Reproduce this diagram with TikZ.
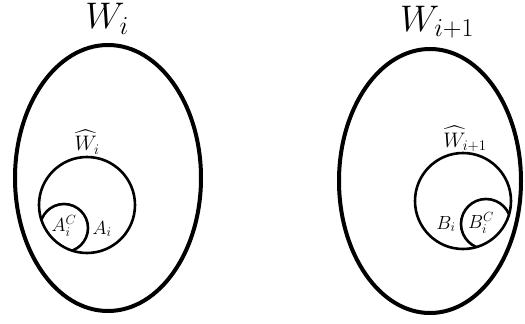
\RequirePackage{fix-cm}
\documentclass[tikz,border=0pt]{standalone}
\usepackage{amsmath}
\begin{document}
\begin{tikzpicture}[x=1pt,y=-1pt,
  outer/.style={line width=4pt},
  inner/.style={line width=2.6pt},
  big/.style={font=\fontsize{37}{44}\selectfont, inner sep=0pt},
  mid/.style={font=\fontsize{21}{25}\selectfont, inner sep=0pt},
  small/.style={font=\fontsize{19}{23}\selectfont, inner sep=0pt}]
\useasboundingbox (0,0) rectangle (525,324);
% left
\draw[outer] (108,178) ellipse [x radius=93, y radius=133];
\begin{scope}
  \clip (87,205) circle [radius=48];
  \draw[inner] (64,228) circle [radius=24];
\end{scope}
\draw[inner] (87,205) circle [radius=48];
\node[big] (wi) at (107,19) {$W_i$};
\node[mid] (hwi) at (87,142) {$\widehat{W}_i$};
\node[small] (aic) at (64,226) {$A_i^C$};
\node[small] (ai) at (102,229) {$A_i$};
% right
\draw[outer] (430,181) ellipse [x radius=91, y radius=132];
\begin{scope}
  \clip (463,201) circle [radius=48];
  \draw[inner] (486,224) circle [radius=25];
\end{scope}
\draw[inner] (463,201) circle [radius=48];
\node[big] (wi1) at (437,22) {$W_{i+1}$};
\node[mid] (hwi1) at (465,139) {$\widehat{W}_{i+1}$};
\node[small] (bi) at (446,224) {$B_i$};
\node[small] (bic) at (481,223) {$B_i^C$};
\end{tikzpicture}
\end{document}
